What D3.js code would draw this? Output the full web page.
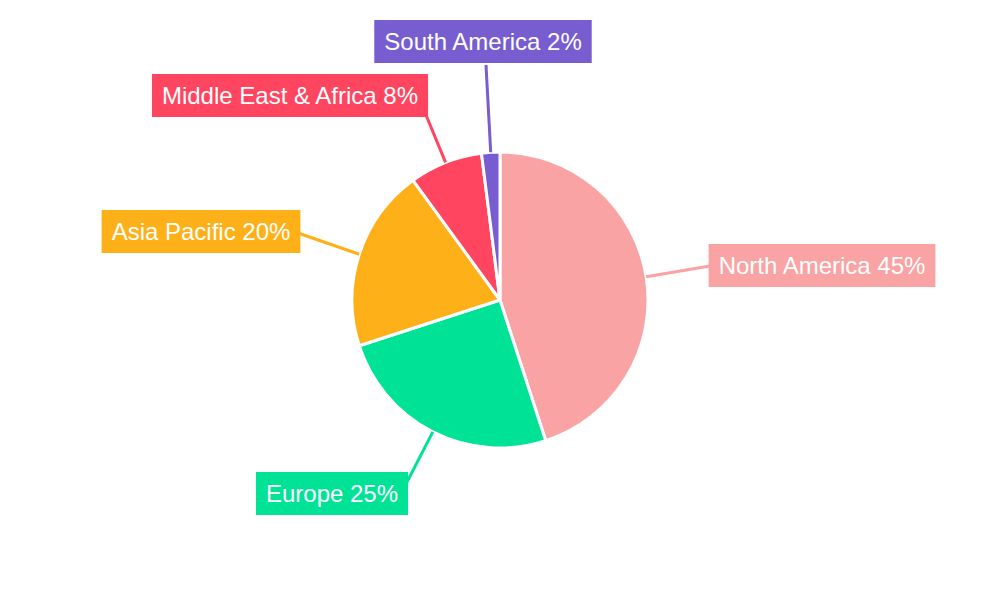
<!DOCTYPE html>
<html>
<head>
<meta charset="utf-8">
<script src="https://cdn.jsdelivr.net/npm/d3@7"></script>
<style>
  html, body { margin: 0; padding: 0; background: #ffffff; }
  svg { display: block; font-family: "Liberation Sans", Arial, sans-serif; }
</style>
</head>
<body>
<svg id="chart" width="1000" height="600"></svg>
<script>
// ---- data ----
const regions = ["North America", "Europe", "Asia Pacific", "Middle East & Africa", "South America"];
const shares = [45, 25, 20, 8, 2];
const colors = ["#F9A3A4", "#00E396", "#FEB019", "#FF4560", "#775DD0"];

// ---- layout (label box centres and leader-line ends) ----
const boxCenters = [[822, 265.5], [332, 493.5], [201, 231.5], [290, 95.5], [483, 41.5]];
const lineEnds = [[710, 266], [406, 484], [298, 233], [426, 115], [486, 65]];

const svg = d3.select("#chart");
const cx = 500, cy = 300, R = 148;

const data = regions.map((r, i) => ({ region: r, value: shares[i], color: colors[i], i }));

const pie = d3.pie().value(d => d.value).sort(null);
const arcs = pie(data);
const arc = d3.arc().innerRadius(0).outerRadius(R);

const g = svg.append("g").attr("transform", `translate(${cx},${cy})`);

// leader lines (drawn first so label boxes overlap their ends)
const edgeArc = d3.arc().innerRadius(R).outerRadius(R);
svg.append("g").selectAll("line").data(arcs).join("line")
  .attr("x1", d => cx + edgeArc.centroid(d)[0])
  .attr("y1", d => cy + edgeArc.centroid(d)[1])
  .attr("x2", d => lineEnds[d.data.i][0])
  .attr("y2", d => lineEnds[d.data.i][1])
  .attr("stroke", d => d.data.color)
  .attr("stroke-width", 3);

g.selectAll("path").data(arcs).join("path")
  .attr("d", arc)
  .attr("fill", d => d.data.color)
  .attr("stroke", "#ffffff")
  .attr("stroke-width", 3)
  .attr("stroke-linejoin", "round");

// labels
const labels = svg.append("g").selectAll("g").data(arcs).join("g")
  .attr("transform", d => `translate(${boxCenters[d.data.i][0]},${boxCenters[d.data.i][1]})`);

labels.append("text")
  .attr("text-anchor", "middle")
  .attr("dy", "0.35em")
  .attr("font-size", 24)
  .attr("fill", "#ffffff")
  .text(d => `${d.data.region} ${d.data.value}%`);

labels.each(function(d) {
  const gEl = d3.select(this);
  const t = gEl.select("text");
  const w = t.node().getComputedTextLength();
  const padX = 10, h = 43;
  gEl.insert("rect", "text")
    .attr("x", -w / 2 - padX)
    .attr("y", -h / 2)
    .attr("width", w + 2 * padX)
    .attr("height", h)
    .attr("fill", d.data.color);
});
</script>
</body>
</html>
